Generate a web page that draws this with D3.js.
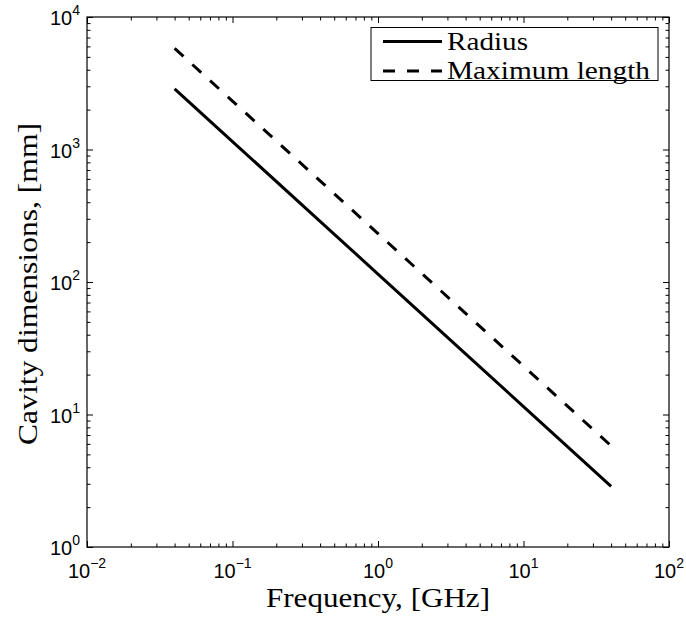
<!DOCTYPE html>
<html>
<head>
<meta charset="utf-8">
<script src="https://cdn.jsdelivr.net/npm/d3@7"></script>
<style>
    body { margin: 0; background: #fff; }
    .tick-label { font-family: "Liberation Sans", Arial, Helvetica, sans-serif; font-size: 20px; fill: #000; }
    .serif { font-family: "Liberation Serif", "Times New Roman", serif; fill: #000; }
</style>
</head>
<body>
<div id="chart"></div>
<script>
"use strict";

// Data (frequency in GHz, dimensions in mm)
const frequency = [0.04, 0.1, 0.4, 1, 4, 10, 40];
const radius = [2870, 1148, 287, 114.8, 28.7, 11.48, 2.87];
const maxLength = [5800, 2320, 580, 232, 58, 23.2, 5.8];

const xTickExps = [-2, -1, 0, 1, 2];
const yTickExps = [0, 1, 2, 3, 4];
const seriesNames = ["Radius", "Maximum length"];

function drawChart() {
    const width = 686, height = 619;
    const margin = { left: 87, right: 17, top: 17, bottom: 72 };

    const svg = d3.select("#chart")
        .append("svg")
        .attr("width", width)
        .attr("height", height);

    // Log scales on both axes
    const x = d3.scaleLog().domain([1e-2, 1e2]).range([margin.left, width - margin.right]);
    const y = d3.scaleLog().domain([1, 1e4]).range([height - margin.bottom, margin.top]);

    const xMajor = xTickExps.map(e => Math.pow(10, e));
    const yMajor = yTickExps.map(e => Math.pow(10, e));

    // minor ticks: 2..9 in every decade
    const minorOf = (exps) => {
        const out = [];
        for (let i = 0; i < exps.length - 1; i++) {
            for (let m = 2; m <= 9; m++) out.push(m * Math.pow(10, exps[i]));
        }
        return out;
    };
    const xMinor = minorOf(xTickExps);
    const yMinor = minorOf(yTickExps);

    const x0 = x.range()[0], x1 = x.range()[1];
    const y0 = y.range()[0], y1 = y.range()[1];

    // Ticks on all four sides, pointing inward
    const addAxis = (axis, tx, ty) => {
        const g = svg.append("g")
            .attr("transform", `translate(${tx},${ty})`)
            .call(axis);
        g.select(".domain").remove();
        g.selectAll("line").attr("stroke", "#000").attr("stroke-width", 1);
    };

    [[xMajor, 6], [xMinor, 3.5]].forEach(([vals, len]) => {
        addAxis(d3.axisBottom(x).tickValues(vals).tickSize(-len).tickFormat(""), 0, y0);
        addAxis(d3.axisTop(x).tickValues(vals).tickSize(-len).tickFormat(""), 0, y1);
    });
    [[yMajor, 6], [yMinor, 3.5]].forEach(([vals, len]) => {
        addAxis(d3.axisLeft(y).tickValues(vals).tickSize(-len).tickFormat(""), x0, 0);
        addAxis(d3.axisRight(y).tickValues(vals).tickSize(-len).tickFormat(""), x1, 0);
    });

    // Plot frame
    svg.append("rect")
        .attr("x", x0).attr("y", y1)
        .attr("width", x1 - x0).attr("height", y0 - y1)
        .attr("fill", "none")
        .attr("stroke", "#000")
        .attr("stroke-width", 1.2);

    // Tick labels as 10^n
    const expText = e => (e < 0 ? "\u2212" + Math.abs(e) : String(e));

    xTickExps.forEach(e => {
        const t = svg.append("text")
            .attr("class", "tick-label")
            .attr("x", x(Math.pow(10, e)))
            .attr("y", y0 + 31)
            .attr("text-anchor", "middle");
        t.append("tspan").text("10");
        t.append("tspan").attr("dy", -10).attr("font-size", 14).text(expText(e));
    });

    yTickExps.forEach(e => {
        const t = svg.append("text")
            .attr("class", "tick-label")
            .attr("x", x0 - 7)
            .attr("y", y(Math.pow(10, e)) + 8)
            .attr("text-anchor", "end");
        t.append("tspan").text("10");
        t.append("tspan").attr("dy", -10).attr("font-size", 14).text(expText(e));
    });

    // Series lines
    const line = d3.line()
        .x(d => x(d[0]))
        .y(d => y(d[1]));

    svg.append("path")
        .datum(d3.zip(frequency, radius))
        .attr("d", line)
        .attr("fill", "none")
        .attr("stroke", "#000")
        .attr("stroke-width", 3);

    svg.append("path")
        .datum(d3.zip(frequency, maxLength))
        .attr("d", line)
        .attr("fill", "none")
        .attr("stroke", "#000")
        .attr("stroke-width", 3)
        .attr("stroke-dasharray", "12,12");

    // Axis titles
    svg.append("text")
        .attr("class", "serif")
        .attr("x", (x0 + x1) / 2)
        .attr("y", 607)
        .attr("text-anchor", "middle")
        .attr("font-size", 28)
        .attr("textLength", 224)
        .attr("lengthAdjust", "spacingAndGlyphs")
        .text("Frequency, [GHz]");

    svg.append("text")
        .attr("class", "serif")
        .attr("transform", `translate(37,284) rotate(-90)`)
        .attr("text-anchor", "middle")
        .attr("font-size", 28)
        .attr("textLength", 322)
        .attr("lengthAdjust", "spacingAndGlyphs")
        .text("Cavity dimensions, [mm]");

    // Legend
    const legend = svg.append("g");
    legend.append("rect")
        .attr("x", 371).attr("y", 27.5)
        .attr("width", 287).attr("height", 53)
        .attr("fill", "#fff")
        .attr("stroke", "#000")
        .attr("stroke-width", 1);

    const rows = [
        { name: seriesNames[0], dash: null, y: 41.5, w: 81 },
        { name: seriesNames[1], dash: "12,12", y: 71, w: 203 }
    ];
    rows.forEach(r => {
        legend.append("line")
            .attr("x1", 383).attr("x2", 442)
            .attr("y1", r.y).attr("y2", r.y)
            .attr("stroke", "#000")
            .attr("stroke-width", 3)
            .attr("stroke-dasharray", r.dash);
        legend.append("text")
            .attr("class", "serif")
            .attr("x", 447)
            .attr("y", r.y + 8)
            .attr("font-size", 26)
            .attr("textLength", r.w)
            .attr("lengthAdjust", "spacingAndGlyphs")
            .text(r.name);
    });
}

drawChart();
</script>
</body>
</html>
